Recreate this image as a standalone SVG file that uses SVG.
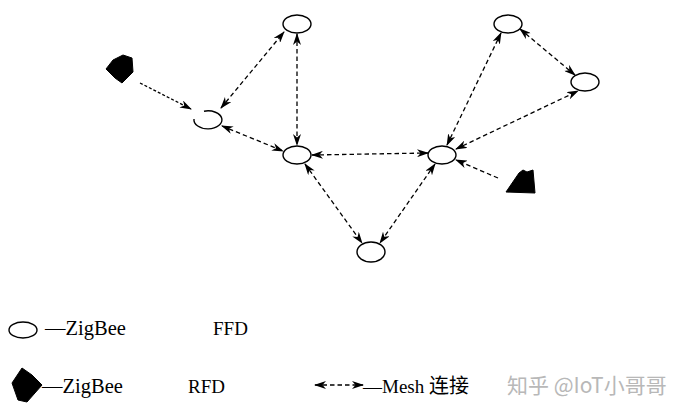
<svg xmlns="http://www.w3.org/2000/svg" width="684" height="414" viewBox="0 0 684 414">
<style>
.node{fill:#fff;stroke:#000;stroke-width:1.4}
.rfd{fill:#000;stroke:#000;stroke-width:1;stroke-linejoin:round}
.link{fill:none;stroke:#000;stroke-width:1.3;stroke-dasharray:4.5,3}
.dot{stroke-dasharray:3,2}
.lbl{font-family:"Liberation Serif","Times New Roman",serif;font-size:19px;fill:#000}
.zb{font-size:20.5px}
.wm{font-family:"Noto Sans CJK SC","Noto Sans",sans-serif;font-size:21px;fill:#b8b8b8}
</style>
<defs>
<marker id="ah" viewBox="0 0 12 8" refX="11" refY="4" markerWidth="12" markerHeight="8" markerUnits="userSpaceOnUse" orient="auto-start-reverse">
<path d="M0,0 L12,4 L0,8 L3.5,4 z" fill="#000"/>
</marker>
</defs>
<g id="connectors">
<line class="link dot" x1="140" y1="83" x2="191" y2="109" marker-end="url(#ah)"/>
<line class="link" x1="221" y1="108" x2="284" y2="32" marker-start="url(#ah)" marker-end="url(#ah)"/>
<line class="link" x1="222" y1="126" x2="283" y2="151" marker-start="url(#ah)" marker-end="url(#ah)"/>
<line class="link" x1="297" y1="34" x2="297" y2="145" marker-start="url(#ah)" marker-end="url(#ah)"/>
<line class="link" x1="312" y1="155" x2="428" y2="153" marker-start="url(#ah)" marker-end="url(#ah)"/>
<line class="link" x1="305" y1="164" x2="362" y2="243" marker-start="url(#ah)" marker-end="url(#ah)"/>
<line class="link" x1="435" y1="164" x2="380" y2="243" marker-start="url(#ah)" marker-end="url(#ah)"/>
<line class="link" x1="447" y1="145" x2="501" y2="33" marker-start="url(#ah)" marker-end="url(#ah)"/>
<line class="link" x1="456" y1="149" x2="578" y2="91" marker-start="url(#ah)" marker-end="url(#ah)"/>
<line class="link" x1="520" y1="29" x2="575" y2="75" marker-start="url(#ah)" marker-end="url(#ah)"/>
<line class="link" x1="498" y1="178" x2="456" y2="160" marker-end="url(#ah)"/>
</g>
<g id="ffd-top"><ellipse class="node" cx="297" cy="24" rx="14" ry="9"/></g>
<g id="ffd-left"><path class="node" d="M 194 119 A 14 9 0 1 0 204 111.2" fill="none"/></g>
<g id="ffd-center"><ellipse class="node" cx="297" cy="155" rx="14" ry="9"/></g>
<g id="ffd-right"><ellipse class="node" cx="442" cy="155" rx="14" ry="9"/></g>
<g id="ffd-topright"><ellipse class="node" cx="508" cy="24" rx="14" ry="9"/></g>
<g id="ffd-farright"><ellipse class="node" cx="585" cy="82" rx="14" ry="9"/></g>
<g id="ffd-bottom"><ellipse class="node" cx="371" cy="252" rx="14" ry="10"/></g>
<g id="rfd-1"><path class="rfd" d="M106,69 L113,60 L123,55 L132,58 L133,72 L122,83 L115,78 Z"/></g>
<g id="rfd-2"><path class="rfd" d="M506,192 L519,173 L523,170 L527,172 L533,170 L535,193 Z"/></g>
<g id="legend">
<ellipse class="node" cx="23" cy="330" rx="14" ry="8"/>
<text class="lbl zb" x="45" y="335">—ZigBee</text>
<text class="lbl" x="213" y="335">FFD</text>
<path class="rfd" d="M22,368 L32,375 L42,385 L27,402 L18,400 L12,383 Z"/>
<text class="lbl zb" x="42" y="393">—ZigBee</text>
<text class="lbl" x="188" y="393">RFD</text>
<line class="link" x1="315" y1="385" x2="363" y2="385" stroke-dasharray="3,2" marker-start="url(#ah)" marker-end="url(#ah)"/>
<text class="lbl" x="363" y="393">—Mesh <tspan font-family="Noto Sans CJK SC, sans-serif" font-size="20">连接</tspan></text>
<text class="wm" x="507" y="393">知乎 @IoT小哥哥</text>
</g>
</svg>
